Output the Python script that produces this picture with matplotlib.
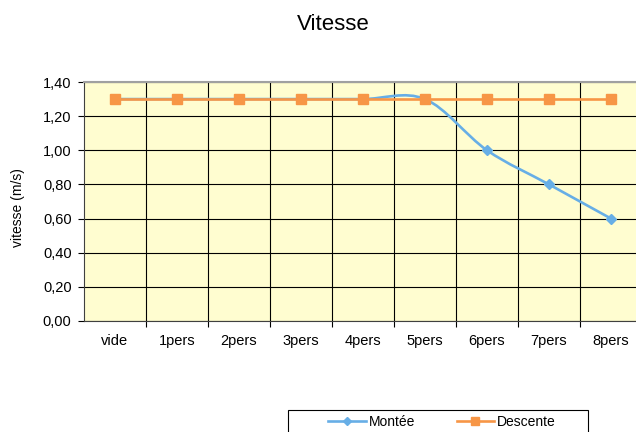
import matplotlib
matplotlib.use("Agg")
import matplotlib.pyplot as plt
from matplotlib.path import Path
from matplotlib.patches import PathPatch, Rectangle
from matplotlib.lines import Line2D
from matplotlib.ticker import FixedLocator, FuncFormatter
import numpy as np

plt.rcParams['font.family'] = ['Liberation Sans', 'DejaVu Sans']

categories = ["vide", "1pers", "2pers", "3pers", "4pers", "5pers", "6pers", "7pers", "8pers"]
montee = [1.30, 1.30, 1.30, 1.30, 1.30, 1.30, 1.00, 0.80, 0.60]
descente = [1.30, 1.30, 1.30, 1.30, 1.30, 1.30, 1.30, 1.30, 1.30]
yticks = [0.0, 0.2, 0.4, 0.6, 0.8, 1.0, 1.2, 1.4]

blue = '#67aee6'
orange = '#f79646'

W, H = 636, 432
fig = plt.figure(figsize=(W / 100, H / 100), dpi=100)
left, right, top, bottom = 84, 642, 82, 321
ax = fig.add_axes([left / W, 1 - bottom / H, (right - left) / W, (bottom - top) / H])
ax.set_facecolor('#fffdd0')

x = np.arange(len(categories))


def smooth_path(xs, ys):
    pts = np.column_stack([xs, ys]).astype(float)
    n = len(pts)
    verts = [pts[0]]
    codes = [Path.MOVETO]
    for i in range(n - 1):
        p0 = pts[i - 1] if i > 0 else pts[i]
        p1 = pts[i]
        p2 = pts[i + 1]
        p3 = pts[i + 2] if i + 2 < n else pts[i + 1]
        c1 = p1 + (p2 - p0) / 6.0
        c2 = p2 - (p3 - p1) / 6.0
        verts += [c1, c2, p2]
        codes += [Path.CURVE4] * 3
    return Path(verts, codes)


ax.add_patch(PathPatch(smooth_path(x, montee), fill=False, edgecolor=blue, lw=1.9, zorder=3))
ax.plot(x, montee, linestyle='none', marker='D', markersize=5, color=blue, zorder=4)
ax.plot(x, descente, color=orange, lw=1.9, marker='s', markersize=7.5, zorder=5)

ax.set_xlim(-0.5, len(categories) - 0.5)
ax.set_ylim(0, 1.4)
ax.yaxis.set_major_locator(FixedLocator(yticks))
ax.yaxis.set_major_formatter(FuncFormatter(lambda v, p: f"{v:.2f}".replace('.', ',')))
ax.set_xticks(x)
ax.set_xticklabels(categories)
for lab in ax.get_xticklabels():
    lab.set_verticalalignment('baseline')
ax.set_xticks(np.arange(len(categories) - 1) + 0.5, minor=True)
ax.tick_params(axis='x', which='major', length=0, labelsize=10.5, pad=17)
ax.tick_params(axis='x', which='minor', length=4, width=0.8, direction='out')
ax.tick_params(axis='y', which='major', length=4, width=0.8, labelsize=10.5, pad=5)
ax.grid(True, axis='y', which='major', color='black', lw=0.8)
ax.grid(True, axis='x', which='minor', color='black', lw=0.8)
ax.set_axisbelow(True)
for s in ['left', 'bottom']:
    ax.spines[s].set_color('#404040')
    ax.spines[s].set_linewidth(0.8)
ax.spines['top'].set_color('#a0a0a0')
ax.spines['top'].set_linewidth(1.5)
ax.spines['right'].set_visible(False)

fig.text(18 / W, 1 - 208 / H, "vitesse (m/s)", rotation=90, ha='center', va='center', fontsize=10)
fig.text(333 / W, 1 - 25 / H, "Vitesse", ha='center', va='center', fontsize=16)

# legend frame
fig.patches.append(Rectangle((288 / W, 1 - 450 / H), 300 / W, 40 / H, transform=fig.transFigure,
                             fill=False, edgecolor='black', lw=0.8))
handles = [Line2D([], [], color=blue, lw=1.9, marker='D', markersize=4),
           Line2D([], [], color=orange, lw=1.9, marker='s', markersize=6)]
leg = fig.legend(handles, ["Montée", "Descente"], ncol=2, loc='center',
                 bbox_to_anchor=(442 / W, 1 - 422 / H),
                 frameon=False, fontsize=10, handlelength=2.7, handletextpad=0.2,
                 borderaxespad=0, borderpad=0, columnspacing=3.0)

fig.savefig("out.png", dpi=100)
